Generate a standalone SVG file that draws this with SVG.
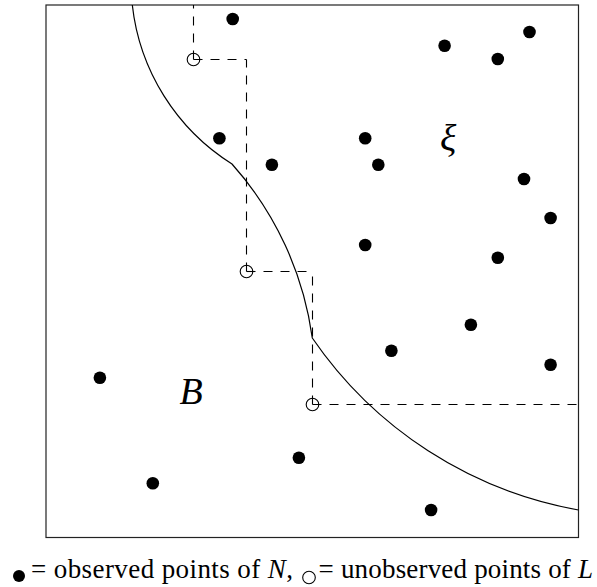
<svg xmlns="http://www.w3.org/2000/svg" width="597" height="587" viewBox="0 0 597 587">
  <style>
    .frame { fill: none; stroke: #222; stroke-width: 1.2; }
    .boundary { fill: none; stroke: #000; stroke-width: 1.2; }
    .dash { fill: none; stroke: #000; stroke-width: 1.1; stroke-dasharray: 9 8; }
    .obs { fill: #000; }
    .unobs { fill: none; stroke: #000; stroke-width: 1.1; }
    .lbl { font-family: "Liberation Serif", "DejaVu Serif", serif; font-style: italic; font-size: 38px; fill: #000; }
    .legend { font-family: "Liberation Serif", "DejaVu Serif", serif; font-size: 27px; fill: #000; }
    .it { font-style: italic; }
  </style>
  <rect width="597" height="587" fill="#fff"/>
  <g id="frame">
    <rect class="frame" x="46" y="5" width="532.5" height="532.5"/>
  </g>
  <g id="boundary">
    <path class="boundary" d="M132.3,5 A216,216 0 0 0 232,164 A328,328 0 0 1 312.3,338 A410,410 0 0 0 578.5,510"/>
  </g>
  <g id="connectors">
    <path class="dash" d="M193.5,59.5 V5"/>
    <path class="dash" d="M193.5,59.5 H246.5"/>
    <path class="dash" d="M246.5,271.5 V59.5"/>
    <path class="dash" d="M246.5,271.5 H312.5"/>
    <path class="dash" d="M312.5,404.5 V271.5"/>
    <path class="dash" d="M312.5,404.5 H578.5"/>
  </g>
  <g id="unobserved">
    <circle id="u1" class="unobs" cx="193.5" cy="59.5" r="6.3"/>
    <circle id="u2" class="unobs" cx="246.5" cy="271.5" r="6.3"/>
    <circle id="u3" class="unobs" cx="312.5" cy="404.5" r="6.3"/>
  </g>
  <g id="observed">
    <circle class="obs" cx="232.7" cy="19" r="6.3"/>
    <circle class="obs" cx="444.6" cy="45.7" r="6.3"/>
    <circle class="obs" cx="529.5" cy="32" r="6.3"/>
    <circle class="obs" cx="497.8" cy="59" r="6.3"/>
    <circle class="obs" cx="219.4" cy="138.3" r="6.3"/>
    <circle class="obs" cx="365.2" cy="138.3" r="6.3"/>
    <circle class="obs" cx="271.9" cy="164.7" r="6.3"/>
    <circle class="obs" cx="378.3" cy="164.7" r="6.3"/>
    <circle class="obs" cx="524" cy="179" r="6.3"/>
    <circle class="obs" cx="550.6" cy="218" r="6.3"/>
    <circle class="obs" cx="365.2" cy="245" r="6.3"/>
    <circle class="obs" cx="497.8" cy="257.7" r="6.3"/>
    <circle class="obs" cx="470.9" cy="324.7" r="6.3"/>
    <circle class="obs" cx="391.4" cy="350.7" r="6.3"/>
    <circle class="obs" cx="550.6" cy="364.7" r="6.3"/>
    <circle class="obs" cx="99.9" cy="377.7" r="6.3"/>
    <circle class="obs" cx="298.9" cy="457.7" r="6.3"/>
    <circle class="obs" cx="152.8" cy="483.3" r="6.3"/>
    <circle class="obs" cx="431.1" cy="510" r="6.3"/>
  </g>
  <g id="labels">
    <text class="lbl" x="179.5" y="403.5">B</text>
    <text class="lbl" x="440" y="151">ξ</text>
  </g>
  <g id="legend">
    <circle class="obs" cx="19" cy="576" r="6"/>
    <text class="legend" x="31" y="578" textLength="262" lengthAdjust="spacing">= observed points of <tspan class="it">N</tspan>,</text>
    <circle class="unobs" cx="309" cy="577.5" r="6.3"/>
    <text class="legend" x="318.6" y="578" textLength="274.4" lengthAdjust="spacing">= unobserved points of <tspan class="it">L</tspan></text>
  </g>
</svg>
